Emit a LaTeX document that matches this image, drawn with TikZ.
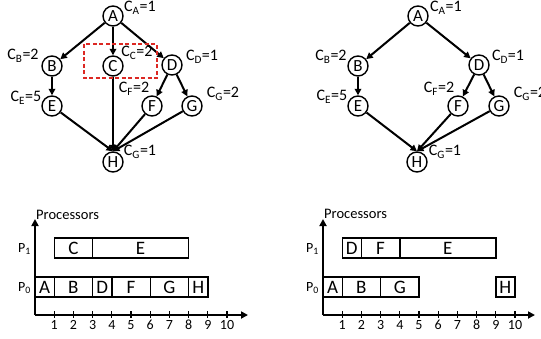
\documentclass[tikz,border=0pt]{standalone}
\usepackage{fontspec}
\setmainfont{Carlito}
\usepackage{xcolor}
\usetikzlibrary{calc,arrows.meta,positioning}
\definecolor{boxred}{RGB}{220,40,35}

\begin{document}
\begin{tikzpicture}[x=1pt,y=-1pt,
    task/.style={circle, draw, line width=1.4pt, minimum size=20pt, inner sep=0pt, font=\fontsize{17}{17}\selectfont},
    cost/.style={inner sep=0pt, font=\fontsize{16}{16}\selectfont},
    edge/.style={line width=2pt, -{Triangle[length=6.5pt,width=6.5pt]}},
    slot/.style={draw, line width=1.4pt, minimum height=20pt, inner sep=0pt, font=\fontsize{19}{19}\selectfont},
    axis/.style={line width=2pt, -{Triangle[length=7pt,width=7pt]}},
    tickmark/.style={line width=1.2pt},
    ticklabel/.style={inner sep=0pt, font=\fontsize{14}{14}\selectfont},
    plabel/.style={inner sep=0pt, anchor=east, font=\fontsize{14}{14}\selectfont}]

    \useasboundingbox (0,0) rectangle (541,338);

    % left graph
    \foreach \n/\x/\y in {A/113/16, B/52/66, C/113/66, D/172/65, E/52/106, F/152/106, G/192/106, H/113/162}
        \node[task] (\n) at (\x,\y) {\n};
    \foreach \n/\dx/\dy/\c in {A/27/-8/1, B/-29/-10/2, C/24/-13/2, D/30/-8/1, E/-26/-8/5, F/-18/-17/2, G/31/-12/2}
        \node[cost] (c\n) at ($(\n)+(\dx,\dy)$) {C\textsubscript{\n}=\c};
    \node[cost] (cH) at ($(H)+(27,-10)$) {C\textsubscript{G}=1};

    \foreach \a/\b in {A/B, A/C, A/D, B/E, D/F, D/G}
        \draw[edge] (\a) -- (\b);
    \foreach \a in {E,C,F,G}
        \draw[edge] (\a) -- (H.north);

    \draw[boxred, line width=1.1pt, dash pattern=on 4pt off 2.5pt] ($(C)+(-29,-22)$) rectangle ($(C)+(44,12)$);

    % right graph
    \foreach \n/\x/\y in {A/418/16, B/358/66, D/479/65, E/358/106, F/458/106, G/499/106, H/417/162}
        \node[task] (r\n) at (\x,\y) {\n};
    \foreach \n/\dx/\dy/\c in {A/28/-8/1, B/-27/-9/2, D/29/-8/1, E/-26/-9/5, F/-19/-17/2, G/31/-12/2}
        \node[cost] (rc\n) at ($(r\n)+(\dx,\dy)$) {C\textsubscript{\n}=\c};
    \node[cost] (rcH) at ($(rH)+(28,-10)$) {C\textsubscript{G}=1};

    \foreach \a/\b in {A/B, A/D, B/E, D/F, D/G}
        \draw[edge] (r\a) -- (r\b);
    \foreach \a in {E,F,G}
        \draw[edge] (r\a) -- (rH.north);

    % left schedule
    \begin{scope}[shift={(35,315)}]
        \coordinate (lo) at (0,0);
        \coordinate (ly) at (0,-96);
        \coordinate (lx) at (213,0);
        \draw[axis] (lo) -- (ly);
        \draw[axis] (lo) -- (lx);
        \node[inner sep=0pt, anchor=west, font=\fontsize{14.5}{14.5}\selectfont] (lproc) at (1,-100) {Processors};
        \foreach \i in {1,...,10} {
            \draw[tickmark] (\i*19.2,-4) -- (\i*19.2,3);
            \node[ticklabel] (lt\i) at (\i*19.2,10) {\i};
        }
        \node[plabel] (lp1) at (-4,-66) {P\textsubscript{1}};
        \node[plabel] (lp0) at (-4,-27) {P\textsubscript{0}};
        \foreach \s/\e/\t in {1/3/C, 3/8/E} {
            \pgfmathsetmacro\w{(\e-\s)*19.2}
            \node[slot, minimum width=\w] (l1\t) at ({(\s+\e)/2*19.2},-67) {\t};
        }
        \foreach \s/\e/\t in {0/1/A, 1/3/B, 3/4/D, 4/6/F, 6/8/G, 8/9/H} {
            \pgfmathsetmacro\w{(\e-\s)*19.2}
            \node[slot, minimum width=\w] (l0\t) at ({(\s+\e)/2*19.2},-28) {\t};
        }
    \end{scope}

    % right schedule
    \begin{scope}[shift={(323,315)}]
        \coordinate (ro) at (0,0);
        \coordinate (ry) at (0,-96);
        \coordinate (rx) at (212,0);
        \draw[axis] (ro) -- (ry);
        \draw[axis] (ro) -- (rx);
        \node[inner sep=0pt, anchor=west, font=\fontsize{14.5}{14.5}\selectfont] (rproc) at (1,-101) {Processors};
        \foreach \i in {1,...,10} {
            \draw[tickmark] (\i*19.2,-4) -- (\i*19.2,3);
            \node[ticklabel] (rt\i) at (\i*19.2,10) {\i};
        }
        \node[plabel] (rp1) at (-4,-66) {P\textsubscript{1}};
        \node[plabel] (rp0) at (-4,-27) {P\textsubscript{0}};
        \foreach \s/\e/\t in {1/2/D, 2/4/F, 4/9/E} {
            \pgfmathsetmacro\w{(\e-\s)*19.2}
            \node[slot, minimum width=\w] (r1\t) at ({(\s+\e)/2*19.2},-67) {\t};
        }
        \foreach \s/\e/\t in {0/1/A, 1/3/B, 3/5/G, 9/10/H} {
            \pgfmathsetmacro\w{(\e-\s)*19.2}
            \node[slot, minimum width=\w] (r0\t) at ({(\s+\e)/2*19.2},-28) {\t};
        }
    \end{scope}
\end{tikzpicture}
\end{document}
